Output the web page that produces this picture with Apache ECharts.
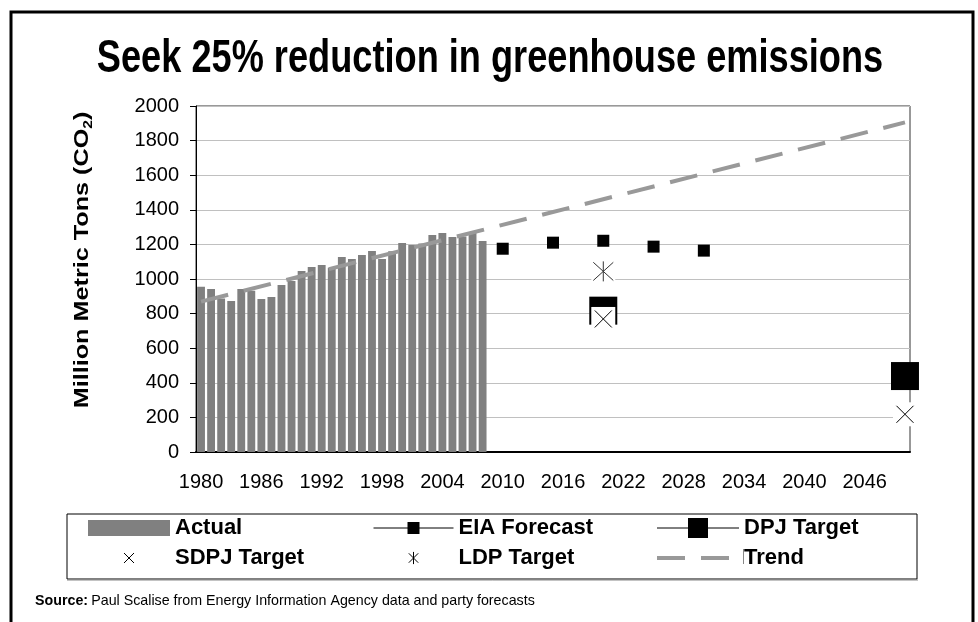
<!DOCTYPE html>
<html>
<head>
<meta charset="utf-8">
<script src="https://cdn.jsdelivr.net/npm/echarts@6/dist/echarts.min.js"></script>
<style>
  html, body { margin: 0; padding: 0; background: #fff; }
  #chart { width: 978px; height: 622px; }
</style>
</head>
<body>
<div id="chart"></div>
<script>
// categories on the x axis
const years = [
  '1980','1981','1982','1983','1984','1985','1986','1987','1988','1989',
  '1990','1991','1992','1993','1994','1995','1996','1997','1998','1999',
  '2000','2001','2002','2003','2004','2005','2006','2007','2008','2009',
  '2010','2011','2012','2013','2014','2015','2016','2017','2018','2019',
  '2020','2021','2022','2023','2024','2025','2026','2027','2028','2029',
  '2030','2031','2032','2033','2034','2035','2036','2037','2038','2039',
  '2040','2041','2042','2043','2044','2045','2046','2047','2048','2049',
  '2050'
];

// actual emissions 1980-2008
const actualValues = [955, 942, 888, 873, 942, 932, 884, 896, 965, 988,
  1046, 1069, 1081, 1065, 1127, 1116, 1139, 1162, 1116, 1160,
  1208, 1196, 1205, 1254, 1266, 1243, 1245, 1266, 1220];

const eiaYears = ['2010', '2015', '2020', '2025', '2030'];
const eiaValues = [1175, 1210, 1221, 1187, 1164];

const dpjYears = ['2020', '2050'];
const dpjValues = [817, 439];

const sdpjYears = ['2020', '2050'];
const sdpjValues = [769, 218];

const ldpYears = ['2020'];
const ldpValues = [1044];

const trendYears = ['1980', '2050'];
const trendValues = [869, 1905];

const yTicks = { min: 0, max: 2000, step: 200 };

function pairs(xs, vs) {
  return xs.map((x, i) => [x, vs[i]]);
}

const SANS = 'Liberation Sans, Arial, sans-serif';

const xPath = 'path://M0,0L16,16M16,0L0,16';
const starPath = 'path://M0,0L20,20M20,0L0,20M10,-1L10,21';
// legend icons padded with move-to points so they come out smaller
const xIcon = 'path://M0,0M16,16M3,3L13,13M13,3L3,13';
const starIcon = 'path://M0,0M16,16M3,3L13,13M13,3L3,13M8,1.5L8,14.5';

const chart = echarts.init(document.getElementById('chart'));

const legendText = { fontFamily: SANS, fontWeight: 'bold', fontSize: 22, color: '#000' };

chart.setOption({
  animation: false,
  grid: {
    left: 196, top: 106, right: 68, bottom: 170,
    show: true, borderColor: '#333', borderWidth: 1
  },
  xAxis: {
    type: 'category',
    data: years,
    boundaryGap: true,
    axisLine: { lineStyle: { color: '#000', width: 2 } },
    axisTick: { interval: 0, length: 5, lineStyle: { color: '#000' } },
    axisLabel: { interval: 5, margin: 20, fontFamily: SANS, fontSize: 20, color: '#000' },
    splitLine: { show: false }
  },
  yAxis: {
    type: 'value',
    min: yTicks.min, max: yTicks.max, interval: yTicks.step,
    axisLine: { show: true, lineStyle: { color: '#000', width: 1 } },
    axisTick: { show: true, length: 6, lineStyle: { color: '#000' } },
    axisLabel: { margin: 17, fontFamily: SANS, fontSize: 20, color: '#000', formatter: v => String(v) },
    splitLine: { lineStyle: { color: '#c0c0c0', width: 1 } }
  },
  legend: [
    {
      orient: 'vertical', left: 88, top: 517, padding: 0,
      itemWidth: 82, itemHeight: 16, itemGap: 8,
      textStyle: legendText, selectedMode: false,
      data: [
        { name: 'Actual', icon: 'rect' },
        { name: 'SDPJ Target', icon: xIcon, itemStyle: { borderWidth: 1, borderColor: '#000', color: 'transparent', opacity: 1 } }
      ]
    },
    {
      orient: 'vertical', left: 373, top: 517, padding: 0,
      itemWidth: 80, itemHeight: 15, itemGap: 8,
      textStyle: legendText, selectedMode: false,
      data: [
        { name: 'EIA Forecast', lineStyle: { opacity: 1, width: 1, color: '#000' } },
        { name: 'LDP Target', icon: starIcon, itemStyle: { borderWidth: 1, borderColor: '#000', color: 'transparent', opacity: 1 } }
      ]
    },
    {
      orient: 'vertical', left: 655, top: 517, padding: 0,
      itemWidth: 82, itemHeight: 25, itemGap: 8,
      textStyle: legendText, selectedMode: false,
      data: [
        { name: 'DPJ Target', lineStyle: { opacity: 1, width: 1, color: '#000' } },
        { name: 'Trend', lineStyle: { width: 4 }, itemStyle: { opacity: 0 } }
      ]
    }
  ],
  series: [
    {
      name: 'Actual', type: 'bar', data: actualValues,
      barCategoryGap: '22%',
      itemStyle: { color: '#808080' }, z: 2
    },
    {
      name: 'Trend', type: 'line', data: pairs(trendYears, trendValues),
      symbol: 'none',
      lineStyle: { color: '#999999', width: 4, type: [28, 16], cap: 'butt' },
      itemStyle: { color: '#999999' }, z: 3
    },
    {
      name: 'EIA Forecast', type: 'line', data: pairs(eiaYears, eiaValues),
      symbol: 'rect', symbolSize: 12, showAllSymbol: true,
      itemStyle: { color: '#000' },
      lineStyle: { color: '#000', width: 1, opacity: 0 }, z: 4
    },
    {
      name: 'DPJ Target', type: 'line', data: pairs(dpjYears, dpjValues),
      symbol: 'rect', symbolSize: 28, showAllSymbol: true,
      itemStyle: { color: '#000' },
      lineStyle: { color: '#000', width: 1, opacity: 0 }, z: 5
    },
    {
      name: 'sdpj-bg', type: 'scatter', data: pairs(sdpjYears, sdpjValues),
      symbol: 'rect', symbolSize: 24,
      itemStyle: { color: '#fff', opacity: 1 }, z: 6
    },
    {
      name: 'SDPJ Target', type: 'scatter', data: pairs(sdpjYears, sdpjValues),
      symbol: xPath, symbolSize: 17,
      itemStyle: { color: 'transparent', borderColor: '#000', borderWidth: 1, opacity: 1 }, z: 7
    },
    {
      name: 'ldp-bg', type: 'scatter', data: pairs(ldpYears, ldpValues),
      symbol: 'rect', symbolSize: 24,
      itemStyle: { color: '#fff', opacity: 1 }, z: 6
    },
    {
      name: 'LDP Target', type: 'scatter', data: pairs(ldpYears, ldpValues),
      symbol: starPath, symbolSize: 20,
      itemStyle: { color: 'transparent', borderColor: '#333', borderWidth: 1, opacity: 1 }, z: 7
    }
  ],
  graphic: [
    {
      type: 'rect', silent: true, z: 0,
      shape: { x: 11, y: 12, width: 962, height: 640 },
      style: { fill: 'none', stroke: '#000', lineWidth: 3 }
    },
    {
      type: 'rect', silent: true, z: 0,
      shape: { x: 67, y: 514, width: 850, height: 65 },
      style: { fill: 'none', stroke: '#000', lineWidth: 1 }
    },
    {
      type: 'line', silent: true,
      shape: { x1: 67, y1: 580, x2: 918, y2: 580 },
      style: { stroke: '#888', lineWidth: 1 }
    },
    {
      type: 'line', silent: true,
      shape: { x1: 743.5, y1: 549, x2: 743.5, y2: 564 },
      style: { stroke: '#888', lineWidth: 1 }
    },
    {
      // condensed bold title: regular bold face squeezed sideways
      type: 'text', x: 490, y: 59, scaleX: 0.77, silent: true,
      style: {
        text: 'Seek 25% reduction in greenhouse emissions',
        fontFamily: SANS, fontWeight: 'bold', fontSize: 47,
        fill: '#000', align: 'center', verticalAlign: 'middle'
      }
    },
    {
      type: 'text', x: 82, y: 260, rotation: Math.PI / 2, scaleX: 1.2, silent: true,
      style: {
        text: '{a|Million Metric Tons (CO}{s|2}{a|)}',
        align: 'center', verticalAlign: 'middle',
        rich: {
          a: { fontFamily: SANS, fontWeight: 'bold', fontSize: 21, fill: '#000', lineHeight: 26 },
          s: { fontFamily: SANS, fontWeight: 'bold', fontSize: 13, fill: '#000', lineHeight: 26, verticalAlign: 'bottom', padding: [8, 0, 0, 0] }
        }
      }
    },
    {
      type: 'text', x: 35, y: 601, scaleX: 0.95, silent: true,
      style: {
        text: '{b|Source:} {r|Paul Scalise from Energy Information Agency data and party forecasts}',
        verticalAlign: 'middle',
        rich: {
          b: { fontFamily: SANS, fontWeight: 'bold', fontSize: 15, fill: '#000' },
          r: { fontFamily: SANS, fontSize: 15, fill: '#000' }
        }
      }
    }
  ]
});
</script>
</body>
</html>
